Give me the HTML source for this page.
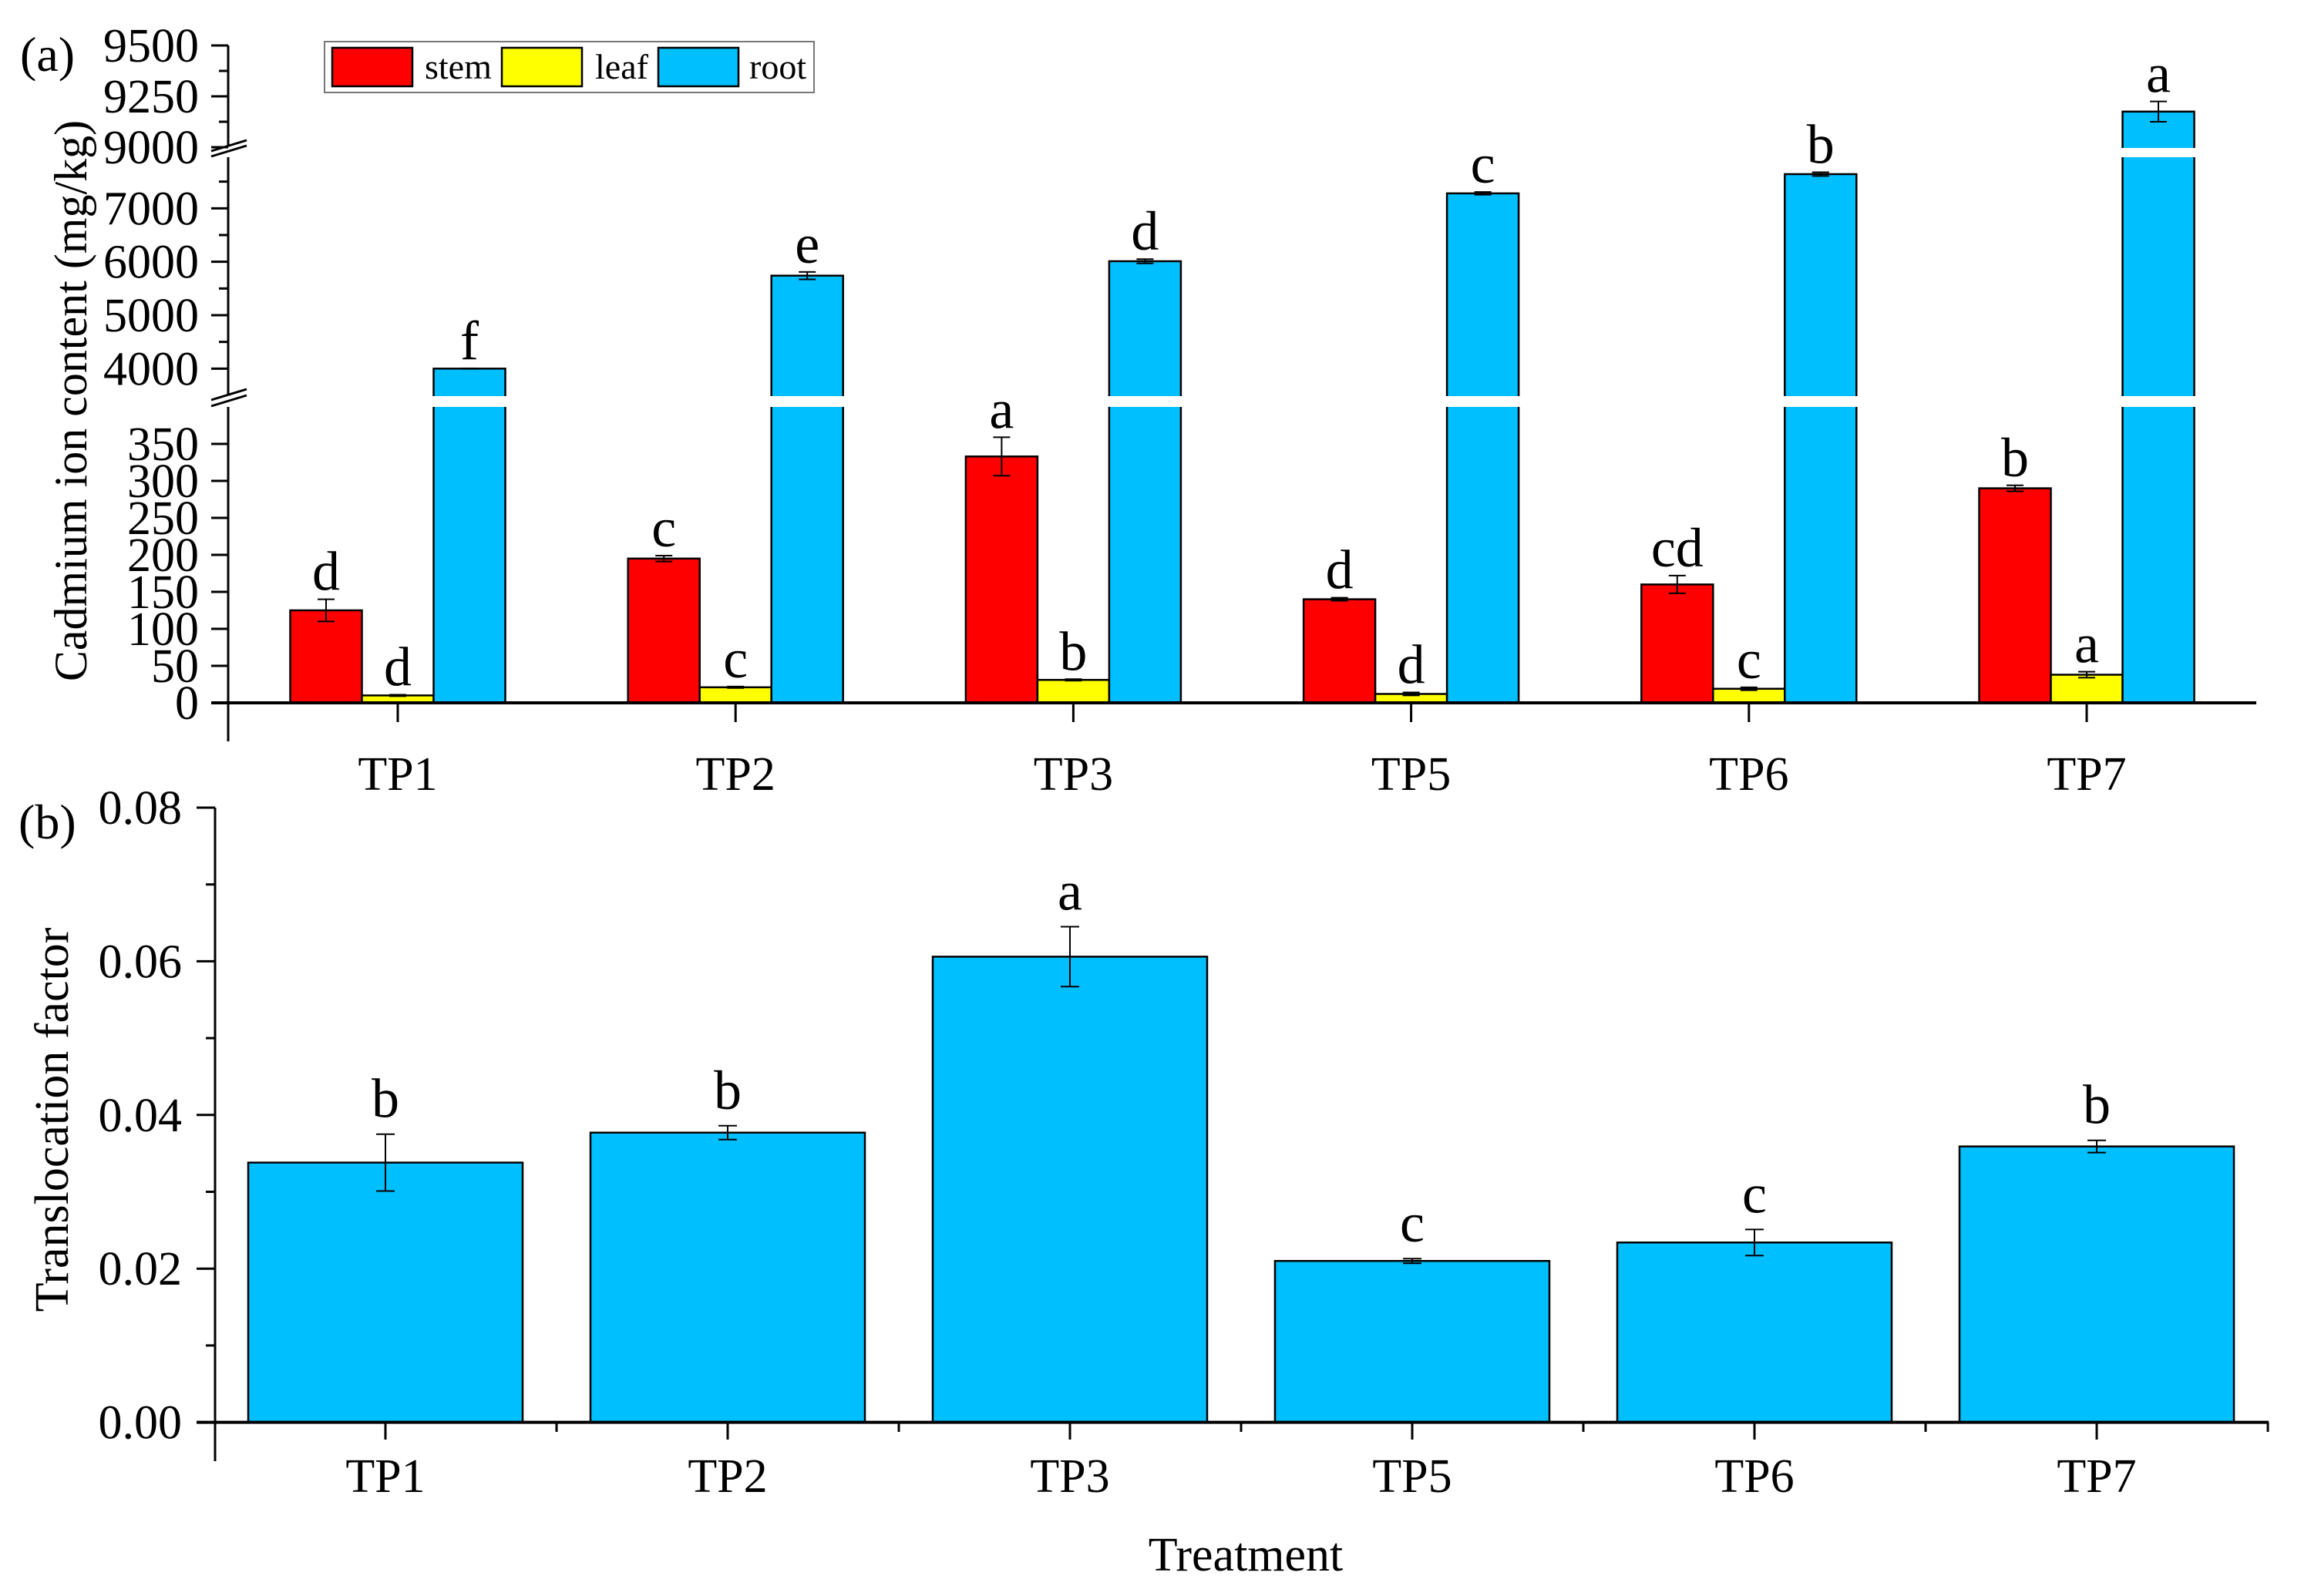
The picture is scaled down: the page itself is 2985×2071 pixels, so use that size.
<!DOCTYPE html>
<html><head><meta charset="utf-8"><style>
html,body{margin:0;padding:0;background:#fff;}
svg{display:block;font-family:"Liberation Serif",serif;}
</style></head><body>
<svg id="c" width="2985" height="2071" viewBox="0 0 2985 2071" xmlns="http://www.w3.org/2000/svg"></svg>
<script>
const categories = ["TP1","TP2","TP3","TP5","TP6","TP7"];
const stemVals = [125,195,333,140,160,290];
const stemErr = [15,4,26,2,12,4];
const leafVals = [10,21,31,12,19,38];
const leafErr = [1,1,1,2,2,4];
const rootVals = [4000,5740,6010,7280,7640,9175];
const rootErr = [5,70,40,25,35,50];
const stemLetters = ["d","c","a","d","cd","b"];
const leafLetters = ["d","c","b","d","c","a"];
const rootLetters = ["f","e","d","c","b","a"];
const tfVals = [0.0338,0.0377,0.0606,0.0210,0.0234,0.0359];
const tfErr = [0.0037,0.0009,0.0039,0.0003,0.0017,0.0008];
const tfLetters = ["b","b","a","c","c","b"];
const topTicks = [0,50,100,150,200,250,300,350,4000,5000,6000,7000,9000,9250,9500];
const topMinor = [4500,5500,6500,7500,9125,9375];
const tfTicks = [0,0.02,0.04,0.06,0.08];
const tfMinor = [0.01,0.03,0.05,0.07];

const NS="http://www.w3.org/2000/svg";
const svg=document.getElementById('c');
function mk(tag,attrs,parent){const e=document.createElementNS(NS,tag);for(const k in attrs)e.setAttribute(k,attrs[k]);(parent||svg).appendChild(e);return e;}
function txt(s,x,y,size,anchor,parent){const t=mk('text',{x:x,y:y,'font-size':size,'text-anchor':anchor||'middle',fill:'#000'},parent);t.textContent=s;return t;}

function yA(v){ if(v<=400) return 912-v*0.96; if(v<=8000) return 513-(v-3500)*(312/4500); return 191-(v-9000)*(132/500); }
function xA(i){ return 516+i*438.2; }
function yB(v){ return 1845.6-v*9970; }
function xB(i){ return 500+i*444; }

const TF=62, LF=72;
// ===== panel a =====
const ga=mk('g',{});


const BW=93;
function errBar(g,x,yTop,yBot,cap,name){
  const e=mk('g',{},g);
  
  
  mk('line',{x1:x,x2:x,y1:yTop,y2:yBot,stroke:'#000','stroke-width':2},e);
  mk('line',{x1:x-cap,x2:x+cap,y1:yTop,y2:yTop,stroke:'#000','stroke-width':2},e);
  mk('line',{x1:x-cap,x2:x+cap,y1:yBot,y2:yBot,stroke:'#000','stroke-width':2},e);
}
categories.forEach((c,i)=>{
  const cx=xA(i);
  const series=[[stemVals,stemErr,stemLetters,'#ff0000','stem',-1],[leafVals,leafErr,leafLetters,'#ffff00','leaf',0],[rootVals,rootErr,rootLetters,'#00bfff','root',1]];
  series.forEach(s=>{
    const v=s[0][i],er=s[1][i],bx=cx+s[5]*BW-BW/2;
    const yt=yA(v);
    const r=mk('rect',{x:bx,y:yt,width:BW,height:912-yt,fill:s[3],stroke:'#000','stroke-width':2.5},ga);
    
    
    if(v>400){ mk('rect',{x:bx-2,y:514,width:BW+4,height:14,fill:'#fff'},ga); }
    if(v>8000){ mk('rect',{x:bx-2,y:192,width:BW+4,height:12,fill:'#fff'},ga); }
    const et=yA(v+er),eb=yA(v-er);
    errBar(ga,bx+BW/2,et,eb,11,'error-'+s[4]+'-'+c.toLowerCase());
    const l=txt(s[2][i],bx+BW/2,Math.min(et,yt)-12,LF,'middle',ga);
    
    
  });
  mk('line',{x1:cx,x2:cx,y1:912,y2:937,stroke:'#000','stroke-width':3},ga);
  const tl=txt(c,cx,1025,TF,'middle',ga);
  
  
});
const ya=mk('g',{},ga);


mk('line',{x1:296,x2:296,y1:59,y2:190,stroke:'#000','stroke-width':3},ya);
mk('line',{x1:296,x2:296,y1:204,y2:513,stroke:'#000','stroke-width':3},ya);
mk('line',{x1:296,x2:296,y1:528,y2:962,stroke:'#000','stroke-width':3},ya);
[[204,190],[528,513]].forEach(p=>{
  mk('line',{x1:274,x2:320,y1:p[0]-1,y2:p[0]-15,stroke:'#000','stroke-width':3},ya);
  mk('line',{x1:274,x2:320,y1:p[1]+6,y2:p[1]-8,stroke:'#000','stroke-width':3},ya);
});
topTicks.forEach(t=>{const y=yA(t);
  mk('line',{x1:274,x2:296,y1:y,y2:y,stroke:'#000','stroke-width':3},ya);
  txt(String(t),258,y+21,TF,'end',ya);
});
topMinor.forEach(t=>{const y=yA(t);mk('line',{x1:284,x2:296,y1:y,y2:y,stroke:'#000','stroke-width':3},ya);});
const xa=mk('line',{x1:274,x2:2927,y1:912,y2:912,stroke:'#000','stroke-width':4},ga);


const yta=txt('Cadmium ion content (mg/kg)',0,0,60,'middle',ga);
yta.setAttribute('transform','translate(112,520) rotate(-90)');


const pa=txt('(a)',26,92,64,'start',ga);


const lg=mk('g',{},ga);


mk('rect',{x:421,y:54,width:635,height:66,fill:'#fff',stroke:'#777','stroke-width':2},lg);
[['stem','#ff0000',431,551],['leaf','#ffff00',651,772],['root','#00bfff',854,972]].forEach(e=>{
  const it=mk('g',{},lg);
  
  
  mk('rect',{x:e[2],y:62,width:104,height:50,fill:e[1],stroke:'#000','stroke-width':2.5},it);
  txt(e[0],e[3],102,46,'start',it);
});

// ===== panel b =====
const gb=mk('g',{});


const BW2=356;
categories.forEach((c,i)=>{
  const cx=xB(i),v=tfVals[i],er=tfErr[i],yt=yB(v);
  const r=mk('rect',{x:cx-BW2/2,y:yt,width:BW2,height:1845.6-yt,fill:'#00bfff',stroke:'#000','stroke-width':2.5},gb);
  
  
  const et=yB(v+er),eb=yB(v-er);
  errBar(gb,cx,et,eb,12,'error-tf-'+c.toLowerCase());
  const l=txt(tfLetters[i],cx,et-22,LF,'middle',gb);
  
  
  mk('line',{x1:cx,x2:cx,y1:1845,y2:1868,stroke:'#000','stroke-width':3},gb);
  mk('line',{x1:cx+222,x2:cx+222,y1:1845,y2:1858,stroke:'#000','stroke-width':3},gb);
  const tl=txt(c,cx,1936,TF,'middle',gb);
  
  
});
const yb=mk('g',{},gb);


mk('line',{x1:279,x2:279,y1:1048,y2:1896,stroke:'#000','stroke-width':3},yb);
tfTicks.forEach(t=>{const y=yB(t);
  mk('line',{x1:255,x2:279,y1:y,y2:y,stroke:'#000','stroke-width':3},yb);
  txt(t.toFixed(2),236,y+21,TF,'end',yb);
});
tfMinor.forEach(t=>{const y=yB(t);mk('line',{x1:267,x2:279,y1:y,y2:y,stroke:'#000','stroke-width':3},yb);});
const xb=mk('line',{x1:255,x2:2943,y1:1845.6,y2:1845.6,stroke:'#000','stroke-width':4},gb);


const ytb=txt('Translocation factor',0,0,62,'middle',gb);
ytb.setAttribute('transform','translate(88,1453) rotate(-90)');


const pb=txt('(b)',24,1088,64,'start',gb);


const xt=txt('Treatment',1616,2038,62,'middle',gb);


</script>
</body></html>
